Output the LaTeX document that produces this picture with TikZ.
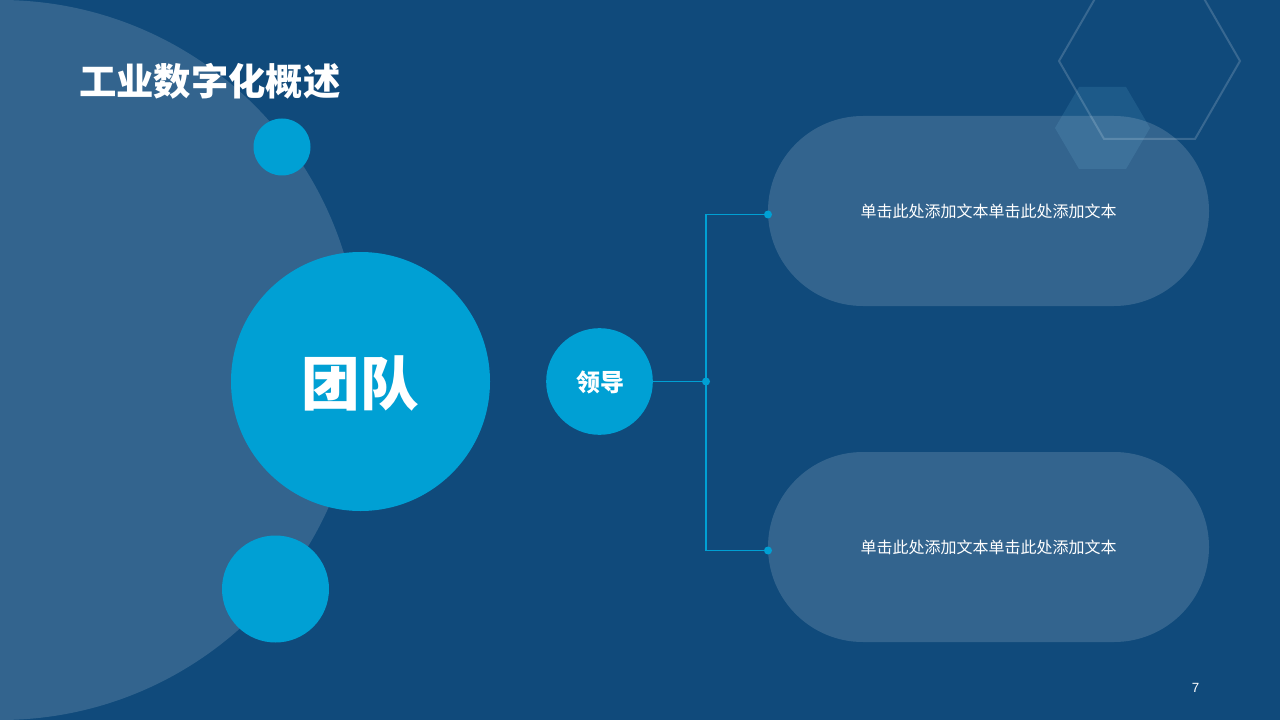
\documentclass[tikz,border=0pt]{standalone}
\usepackage{fontspec}
\setmainfont{Liberation Sans}
\newfontfamily\cjk{Noto Sans CJK SC}
\definecolor{bgblue}{HTML}{104A7B}
\definecolor{cyanball}{HTML}{00A0D4}
\definecolor{hexfill}{HTML}{8FE0FF}
\tikzset{
  ball/.style={circle,fill=cyanball,inner sep=0pt,outer sep=0pt,text=white},
  pill/.style={rectangle,fill=white,fill opacity=0.15,text opacity=1,text=white,rounded corners=71.25pt,
    minimum width=330.75pt,minimum height=142.5pt,inner sep=0pt,outer sep=0pt,font=\cjk\fontsize{12}{14}\selectfont},
  dotnode/.style={circle,fill=cyanball,minimum size=6pt,inner sep=0pt,outer sep=0pt},
  link/.style={draw=cyanball,line width=1pt}
}
\begin{document}
\begin{tikzpicture}[x=0.75pt,y=-0.75pt]
\useasboundingbox (0,0) rectangle (1280,720);
\fill[bgblue] (0,0) rectangle (1280,720);
\begin{scope}
\clip (0,0) rectangle (1280,720);
\fill[white,opacity=0.15] (0,360) circle[radius=270pt];
\draw[white,opacity=0.17,line width=1.5pt] (1059,61) -- (1104,-17) -- (1195,-17) -- (1240,61) -- (1195,139) -- (1104,139) -- cycle;
\end{scope}
\node[pill] (p1) at (988.5,211) {单击此处添加文本单击此处添加文本};
\node[pill] (p2) at (988.5,547) {单击此处添加文本单击此处添加文本};
\fill[hexfill,opacity=0.11] (1055,128) -- (1079,87) -- (1126,87) -- (1150,128) -- (1126,169) -- (1079,169) -- cycle;
\node[ball,minimum size=42.75pt] (c1) at (282,147) {};
\node[ball,minimum size=194.25pt] (c2) at (360.5,381.5) {};
\node[text=white,inner sep=0pt,font=\cjk\bfseries\fontsize{44}{50}\selectfont] (c2t) at (360.5,383) {团队};
\node[ball,minimum size=80.25pt] (c3) at (275.5,589) {};
\node[ball,minimum size=80pt] (lead) at (599.5,381.5) {};
\node[text=white,inner sep=0pt,font=\cjk\bfseries\fontsize{18}{22}\selectfont] (leadt) at (600,382.5) {领导};
\node[dotnode] (j) at (706,381.5) {};
\node[dotnode] (d1) at (768,214.5) {};
\node[dotnode] (d2) at (768,550.5) {};
\draw[link] (lead) -- (j.center);
\draw[link] (j.center) |- (d1.center);
\draw[link] (j.center) |- (d2.center);
\node[text=white,inner sep=0pt,anchor=west,font=\cjk\bfseries\fontsize{28}{34}\selectfont] (title) at (79,81.5) {工业数字化概述};
\node[text=white,inner sep=0pt,font=\fontsize{10}{12}\selectfont] (num) at (1195.5,687.5) {7};
\end{tikzpicture}
\end{document}
